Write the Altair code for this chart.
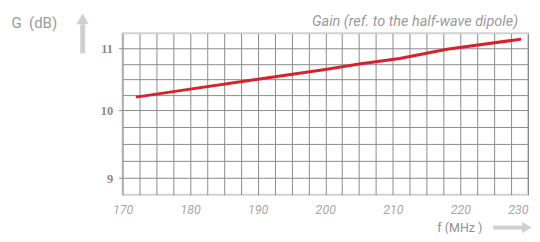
import altair as alt
import pandas as pd

# Gain curve
freq = [172, 180, 190, 200, 205, 211, 218, 229]
gain = [10.21, 10.34, 10.50, 10.66, 10.75, 10.84, 10.99, 11.155]

# Axis values
x_grid = [170, 172.5, 175, 177.5, 180, 182.5, 185, 187.5, 190, 192.5, 195, 197.5,
          200, 202.5, 205, 207.5, 210, 212.5, 215, 217.5, 220, 222.5, 225, 227.5, 230]
y_grid = [9, 9.25, 9.5, 9.75, 10, 10.25, 10.5, 10.75, 11]

# The printed chart's gain axis is not evenly spaced: piecewise scale
y_domain = [8.75, 9, 10, 11, 11.25]
y_range = [162, 145.3, 77, 15.3, 0]

df = pd.DataFrame({"f": freq, "g": gain})

GRID = "#8c8c8c"
TXT = "#9a9a9a"
FONT = "Roboto"

x_axis = alt.Axis(
    values=x_grid, grid=True, gridColor=GRID, gridWidth=1, ticks=False, domain=False,
    labelExpr="datum.value % 10 === 0 ? datum.label : ''",
    labelOverlap=False, labelFlush=False, labelFont=FONT, labelFontStyle="italic",
    labelFontSize=12.5, labelColor="#a8a8a8", labelPadding=9, title=None,
    labelAlign={"condition": {"test": "datum.value >= 230", "value": "right"}, "value": "center"},
)
y_axis = alt.Axis(
    values=y_grid, grid=True, gridColor=GRID, gridWidth=1, domain=False,
    labelExpr="datum.value % 1 === 0 ? format(datum.value, 'd') : ''",
    labelOverlap=False, labelFlush=False, labelFont="Liberation Sans Narrow",
    labelFontWeight="bold", labelFontSize=12.5, labelColor="#8a8a8a", labelPadding=6,
    tickSize=4, tickColor={"condition": {"test": "datum.value % 1 === 0", "value": GRID}, "value": "transparent"},
    title="G \u00a0(dB)", titleAngle=0, titleX=-112, titleY=-6, titleAlign="left",
    titleBaseline="alphabetic", titleFont=FONT, titleFontSize=15, titleFontWeight="normal",
    titleColor=TXT,
)

line = alt.Chart(df).mark_line(color="#d7212b", strokeWidth=3).encode(
    x=alt.X("f:Q", scale=alt.Scale(domain=[170, 230], nice=False, zero=False), axis=x_axis),
    y=alt.Y("g:Q", scale=alt.Scale(domain=y_domain, range=y_range, nice=False, zero=False), axis=y_axis),
)

one = alt.Data(values=[{"a": 1}])

gain_title = alt.Chart(one).mark_text(
    text="Gain (ref. to the half-wave dipole)", font=FONT, fontStyle="italic", fontSize=14.5,
    color=TXT, align="right", baseline="alphabetic",
).encode(x=alt.value(397), y=alt.value(-7))

f_title = alt.Chart(one).mark_text(
    text="f (MHz )", font=FONT, fontSize=12.5, color="#8f8f8f", align="left", baseline="middle",
).encode(x=alt.value(316), y=alt.value(195))

ARROW = "#d0d0d0"
up_shaft = alt.Chart(one).mark_rule(color=ARROW, strokeWidth=5).encode(
    x=alt.value(-40), y=alt.value(-9), y2=alt.value(20))
up_head = alt.Chart(one).mark_point(shape="triangle-up", filled=True, size=150, color=ARROW, opacity=1).encode(
    x=alt.value(-40), y=alt.value(-14.5))
right_shaft = alt.Chart(one).mark_rule(color=ARROW, strokeWidth=4).encode(
    x=alt.value(372), x2=alt.value(402), y=alt.value(195))
right_head = alt.Chart(one).mark_point(shape="triangle-right", filled=True, size=130, color=ARROW, opacity=1).encode(
    x=alt.value(406), y=alt.value(195))

chart = alt.layer(line, gain_title, f_title, up_shaft, up_head, right_shaft, right_head).properties(
    width=407, height=162,
    autosize=alt.AutoSizeParams(type="none"),
    padding={"left": 115, "top": 25, "right": 4, "bottom": 39},
).configure_view(stroke="#d2d2d2", strokeWidth=2)

chart.save("out.html", embed_options={"renderer": "svg", "actions": False})
